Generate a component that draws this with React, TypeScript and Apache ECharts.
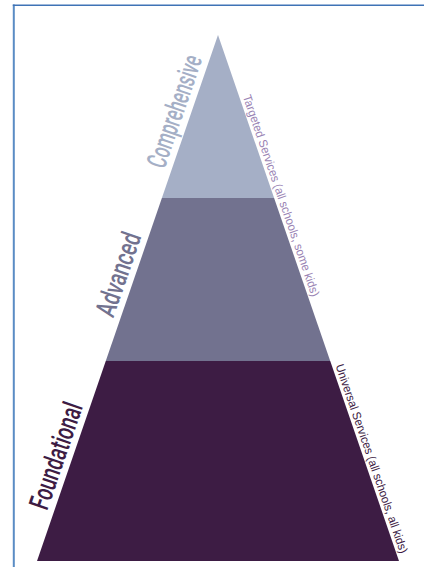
import React, { useEffect, useRef } from "react";
import * as echarts from "echarts";

// Tiers from apex to base
const categories = ["Comprehensive", "Advanced", "Foundational"];
// Width of each tier's lower edge, in % of the base width
const values = [31, 62, 100];
const tierColors = ["#a5afc6", "#72728f", "#3d1c44"];
const tierLabelScale = [0.6, 0.7, 0.68];

// Service bands on the right side: [first tier index, last tier index]
const serviceLabels = [
  "Targeted Services (all schools, some kids)",
  "Universal Services (all schools, all kids)",
];
const serviceSpans = [
  [0, 1],
  [2, 2],
];
const serviceColors = ["#9a84b4", "#3d1c44"];

export default function App() {
  const ref = useRef<HTMLDivElement>(null);

  useEffect(() => {
    if (!ref.current) return;
    document.body.style.margin = "0";
    document.body.style.overflow = "hidden";
    document.documentElement.style.overflow = "hidden";
    const chart = echarts.init(ref.current, null, { renderer: "svg" });

    const left = 37;
    const top = 35;
    const width = 362;
    const height = 526;
    const maxV = values[values.length - 1];
    const cx = left + width / 2;
    const half = width / 2;
    const L = Math.sqrt(half * half + height * height);
    const theta = Math.atan2(height, half);

    const lower = (i: number) => values[i];
    const upper = (i: number) => (i === 0 ? 0 : values[i - 1]);

    const edgePoint = (t: number, side: number, gap: number) => {
      const x = cx + side * t * half;
      const y = top + t * height;
      return [x + side * (height / L) * gap, y - (half / L) * gap];
    };

    const graphics: any[] = [
      {
        type: "line",
        shape: { x1: 13.8, y1: 4.5, x2: 13.8, y2: 567 },
        style: { stroke: "#5a8cc4", lineWidth: 2 },
        silent: true,
        z: 10,
      },
      {
        type: "line",
        shape: { x1: 12.8, y1: 5.3, x2: 424, y2: 5.3 },
        style: { stroke: "#3f73b6", lineWidth: 1.6 },
        silent: true,
        z: 10,
      },
    ];

    categories.forEach((name, i) => {
      const t = (upper(i) + lower(i)) / 2 / maxV;
      const [x, y] = edgePoint(t, -1, 2);
      graphics.push({
        type: "group",
        x,
        y,
        rotation: theta,
        children: [
          {
            type: "text",
            x: 0,
            y: 0,
            scaleX: tierLabelScale[i],
            style: {
              text: name,
              fill: tierColors[i],
              fontFamily: "Roboto",
              fontWeight: 500,
              fontSize: 28,
              align: "center",
              verticalAlign: "bottom",
              textAlign: "center",
              textVerticalAlign: "bottom",
            },
          },
        ],
      });
    });

    serviceLabels.forEach((name, j) => {
      const [a, b] = serviceSpans[j];
      const t = (upper(a) + lower(b)) / 2 / maxV;
      const [x, y] = edgePoint(t, 1, 2);
      graphics.push({
        type: "group",
        x,
        y,
        rotation: -theta,
        children: [
          {
            type: "text",
            x: 0,
            y: 0,
            scaleX: 0.95,
            style: {
              text: name,
              fill: serviceColors[j],
              fontFamily: "Liberation Sans",
              fontSize: 12,
              align: "center",
              verticalAlign: "bottom",
              textAlign: "center",
              textVerticalAlign: "bottom",
            },
          },
        ],
      });
    });

    chart.setOption({
      animation: false,
      backgroundColor: "#ffffff",
      series: [
        {
          type: "funnel",
          sort: "ascending",
          left,
          top,
          width,
          height,
          min: 0,
          max: maxV,
          minSize: "0%",
          maxSize: "100%",
          gap: 0,
          funnelAlign: "center",
          label: { show: false },
          labelLine: { show: false },
          emphasis: { disabled: true },
          itemStyle: { borderWidth: 0 },
          data: categories.map((name, i) => ({
            name,
            value: values[i],
            itemStyle: {
              color: tierColors[i],
              height: ((lower(i) - upper(i)) / maxV) * 100 + "%",
            },
          })),
        },
      ],
      graphic: graphics,
    });

    return () => chart.dispose();
  }, []);

  return (
    <div
      ref={ref}
      style={{ position: "fixed", left: 0, top: 0, width: 424, height: 567 }}
    />
  );
}
